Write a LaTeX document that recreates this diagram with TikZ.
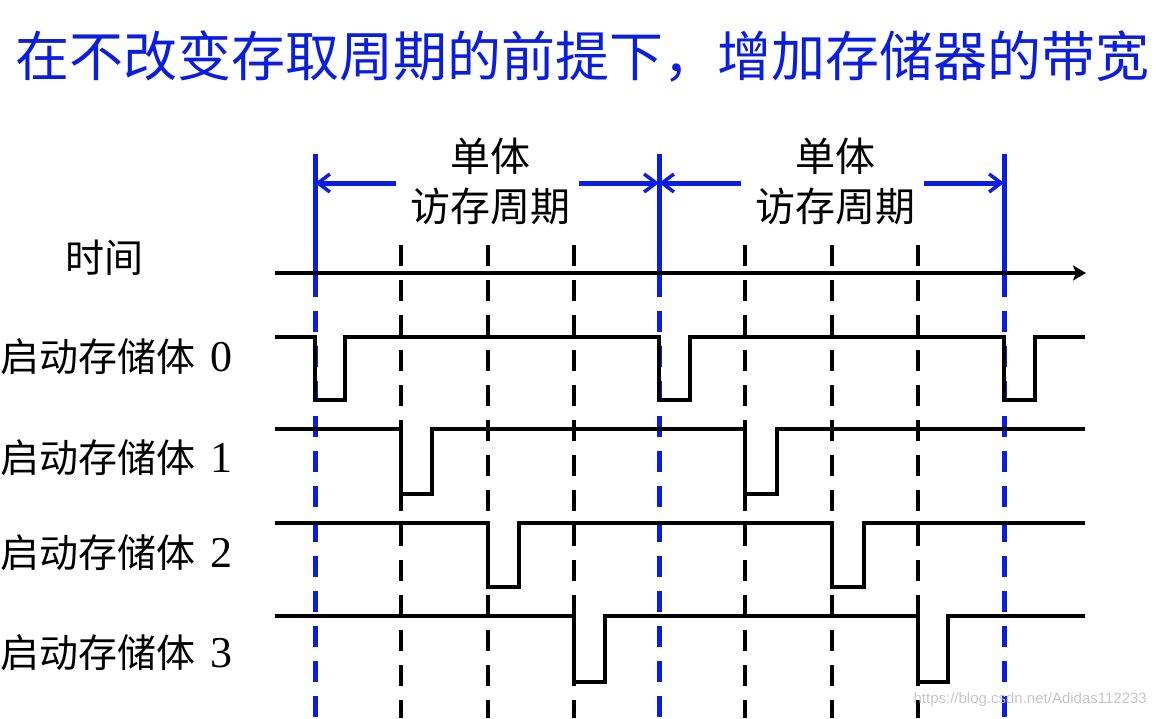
\documentclass[tikz,border=0pt]{standalone}
\usepackage{fontspec}
\setmainfont{Liberation Serif}
\newfontfamily\cjk{Noto Sans CJK SC}
\newfontfamily\wmfont{Liberation Sans}
\usetikzlibrary{arrows.meta}
\definecolor{myblue}{RGB}{10,30,225}
\begin{document}
\begin{tikzpicture}[x=1pt,y=-1pt,
  bluesolid/.style={myblue,line width=5pt},
  bluedash/.style={myblue,line width=5pt,dash pattern=on 21pt off 14pt,dash phase=21pt},
  blackdash/.style={black,line width=4.5pt,dash pattern=on 21pt off 14pt},
  sig/.style={black,line width=3.8pt,line join=miter},
  spanarrow/.style={myblue,line width=5pt,-{Straight Barb[length=12pt,width=18pt,line width=3.5pt]}},
  rowlabel/.style={font=\cjk\fontsize{39}{40}\selectfont,anchor=west,inner sep=0pt},
  digit/.style={},
  spanlabel/.style={font=\cjk\fontsize{40}{50}\selectfont,align=center,inner sep=0pt},
]
\useasboundingbox (0,0) rectangle (1156,718);

% title
\node[font=\cjk\fontsize{54}{60}\selectfont,text=myblue,inner sep=0pt] (title) at (582,56) {在不改变存取周期的前提下，增加存储器的带宽};

% blue boundary lines
\foreach \x/\n in {315/1,659/2,1004/3}{
  \draw[bluesolid] (\x,154) -- (\x,297);
  \draw[bluedash] (\x,297) -- (\x,718);
  \coordinate (B\n) at (\x,183);
}
% black dashed lines
\foreach \x in {401,488,574,745,832,918}{
  \draw[blackdash] (\x,245) -- (\x,718);
}

% span labels and arrows
\node[spanlabel] (s1) at (490,181) {单体\\访存周期};
\node[spanlabel] (s2) at (835,181) {单体\\访存周期};
\coordinate (s1l) at (396,183);
\coordinate (s1r) at (579,183);
\coordinate (s2l) at (741,183);
\coordinate (s2r) at (924,183);
\draw[spanarrow] (s1l) -- (B1);
\draw[spanarrow] (s1r) -- (B2);
\draw[spanarrow] (s2l) -- (B2);
\draw[spanarrow] (s2r) -- (B3);

% time axis
\node[rowlabel] (time) at (65,258) {时间};
\coordinate (ax0) at (275,273);
\coordinate (ax1) at (1086,273);
\draw[line width=3.8pt,-{Stealth[length=13pt,width=15pt,inset=3pt]}] (ax0) -- (ax1);

% row labels
\newcommand\dg[1]{\hspace{15pt}{\rmfamily\fontsize{44}{44}\selectfont #1}}
\node[rowlabel] (r0) at (0,357) {启动存储体\dg{0}};
\node[rowlabel] (r1) at (0,458) {启动存储体\dg{1}};
\node[rowlabel] (r2) at (0,553) {启动存储体\dg{2}};
\node[rowlabel] (r3) at (0,653) {启动存储体\dg{3}};

% signals
\draw[sig] (275,337) -- (315,337) -- (315,400) -- (345,400) -- (345,337) -- (659,337) -- (659,400) -- (690,400) -- (690,337) -- (1004,337) -- (1004,400) -- (1035,400) -- (1035,337) -- (1085,337);
\draw[sig] (275,429) -- (401,429) -- (401,494) -- (432,494) -- (432,429) -- (745,429) -- (745,494) -- (777,494) -- (777,429) -- (1085,429);
\draw[sig] (275,523) -- (488,523) -- (488,587) -- (519,587) -- (519,523) -- (832,523) -- (832,587) -- (864,587) -- (864,523) -- (1085,523);
\draw[sig] (275,616) -- (574,616) -- (574,682) -- (605,682) -- (605,616) -- (918,616) -- (918,682) -- (948,682) -- (948,616) -- (1085,616);

% watermark
\node[font=\wmfont\fontsize{15}{15}\selectfont,text=black!22,anchor=east,inner sep=0pt] (wm) at (1147,700) {https://blog.csdn.net/Adidas112233};
\end{tikzpicture}
\end{document}
